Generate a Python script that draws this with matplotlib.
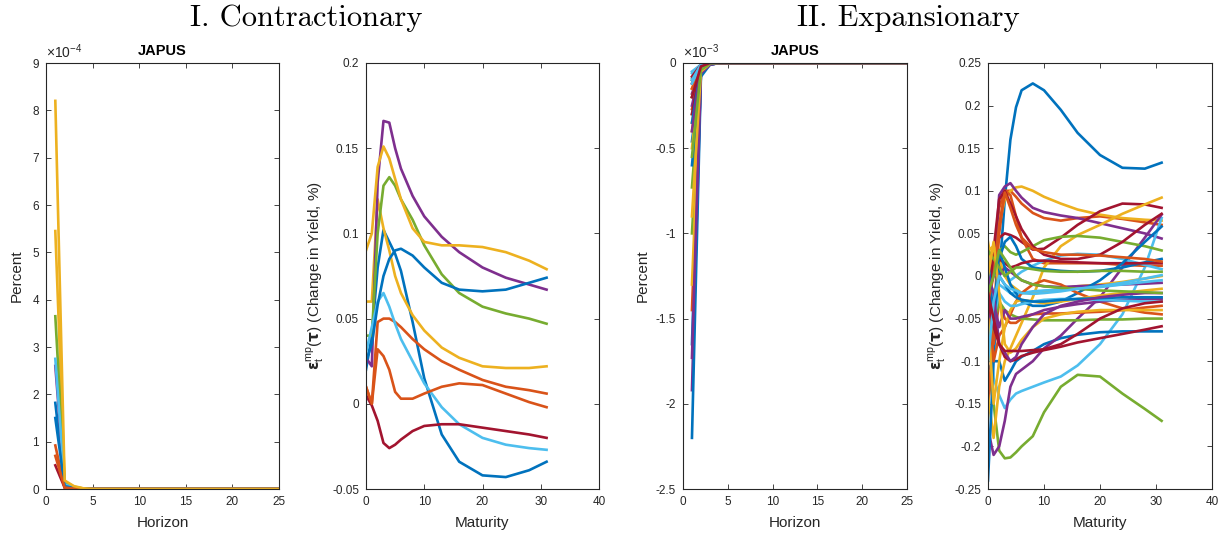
import numpy as np
import matplotlib
matplotlib.use('Agg')
import matplotlib.pyplot as plt
from matplotlib.ticker import FuncFormatter, MultipleLocator

plt.rcParams['font.family'] = ['Liberation Sans', 'DejaVu Sans']
plt.rcParams['mathtext.fontset'] = 'custom'
plt.rcParams['mathtext.rm'] = 'Liberation Sans'
plt.rcParams['mathtext.it'] = 'Liberation Sans:italic'
plt.rcParams['mathtext.bf'] = 'DejaVu Sans:bold'

COLORS = ['#0072BD', '#D95319', '#EDB120', '#7E2F8E', '#77AC30', '#4DBEEE', '#A2142F']

# ---------------- data ----------------
horizon = list(range(1, 26))
maturity = [0, 1, 2, 3, 4, 5, 6, 8, 10, 13, 16, 20, 24, 28, 31]

# Contractionary IRFs (units of 1e-4), horizons 1..5, zero afterwards
con_irf = [
    [1.82, 0.08, 0.02, 0.005, 0.0],
    [0.92, 0.02, 0.005, 0.0, 0.0],
    [5.45, 0.15, 0.05, 0.01, 0.0],
    [2.60, 0.10, 0.03, 0.005, 0.0],
    [3.65, 0.12, 0.04, 0.01, 0.0],
    [2.75, 0.10, 0.03, 0.005, 0.0],
    [0.50, 0.03, 0.01, 0.0, 0.0],
    [1.50, 0.06, 0.02, 0.005, 0.0],
    [0.70, 0.03, 0.01, 0.0, 0.0],
    [8.20, 0.18, 0.06, 0.015, 0.0],
]

# Contractionary yield responses at each maturity
con_yield = [
    [0.020, 0.040, 0.080, 0.102, 0.095, 0.088, 0.078, 0.048, 0.015, -0.018, -0.034, -0.042, -0.043, -0.039, -0.034],
    [0.010, 0.000, 0.048, 0.050, 0.050, 0.048, 0.045, 0.038, 0.032, 0.025, 0.020, 0.014, 0.010, 0.008, 0.006],
    [0.060, 0.060, 0.120, 0.103, 0.090, 0.075, 0.065, 0.052, 0.043, 0.033, 0.027, 0.022, 0.021, 0.021, 0.022],
    [0.027, 0.022, 0.130, 0.166, 0.165, 0.150, 0.138, 0.122, 0.110, 0.098, 0.089, 0.080, 0.074, 0.070, 0.067],
    [0.040, 0.040, 0.100, 0.128, 0.133, 0.128, 0.120, 0.108, 0.093, 0.076, 0.065, 0.057, 0.053, 0.050, 0.047],
    [0.030, 0.045, 0.060, 0.065, 0.057, 0.047, 0.038, 0.025, 0.012, -0.002, -0.012, -0.020, -0.024, -0.026, -0.027],
    [0.005, -0.001, -0.010, -0.023, -0.026, -0.024, -0.021, -0.016, -0.013, -0.012, -0.012, -0.014, -0.016, -0.018, -0.020],
    [0.025, 0.035, 0.058, 0.075, 0.085, 0.090, 0.091, 0.087, 0.080, 0.071, 0.067, 0.066, 0.067, 0.071, 0.074],
    [0.010, 0.000, 0.032, 0.028, 0.020, 0.007, 0.003, 0.003, 0.006, 0.010, 0.012, 0.011, 0.006, 0.001, -0.002],
    [0.090, 0.100, 0.139, 0.151, 0.144, 0.132, 0.120, 0.103, 0.095, 0.093, 0.093, 0.092, 0.089, 0.084, 0.079],
]

# Expansionary IRFs (units of 1e-3), horizons 1..3, zero afterwards
exp_irf = [
    [-0.46, -0.04, -0.005], [-0.27, -0.02, 0.0], [-0.35, -0.03, 0.0], [-0.18, -0.02, 0.0],
    [-1.00, -0.05, -0.005], [-0.09, -0.01, 0.0], [-0.12, -0.01, 0.0],
    [-1.65, -0.06, -0.01], [-1.45, -0.05, -0.005], [-1.30, -0.05, -0.005], [-1.92, -0.06, -0.01],
    [-0.73, -0.04, -0.005], [-0.05, -0.01, 0.0], [-0.20, -0.02, 0.0],
    [-2.20, -0.08, -0.01], [-0.10, -0.01, 0.0], [-0.15, -0.02, 0.0], [-1.73, -0.06, -0.01],
    [-0.30, -0.03, 0.0], [-0.06, -0.01, 0.0], [-0.08, -0.01, 0.0],
    [-0.60, -0.04, -0.005], [-0.40, -0.03, 0.0], [-0.50, -0.03, 0.0], [-0.25, -0.02, 0.0],
    [-0.20, -0.02, 0.0], [-0.10, -0.01, 0.0], [-0.30, -0.02, 0.0],
    [-0.35, -0.03, 0.0], [-0.15, -0.02, 0.0], [-0.90, -0.05, -0.005], [-0.40, -0.03, 0.0],
    [-0.55, -0.04, -0.005], [-0.12, -0.01, 0.0], [-0.20, -0.02, 0.0],
]

# Expansionary yield responses at each maturity
exp_yield = [
    [-0.100, -0.050, 0.000, 0.090, 0.160, 0.198, 0.218, 0.226, 0.218, 0.195, 0.168, 0.142, 0.127, 0.126, 0.133],
    [-0.050, 0.020, 0.080, 0.100, 0.100, 0.093, 0.085, 0.074, 0.068, 0.065, 0.068, 0.070, 0.067, 0.063, 0.060],
    [0.040, 0.000, 0.060, 0.090, 0.100, 0.104, 0.105, 0.100, 0.093, 0.085, 0.078, 0.072, 0.068, 0.066, 0.065],
    [0.000, 0.000, 0.095, 0.105, 0.109, 0.100, 0.092, 0.080, 0.075, 0.071, 0.068, 0.062, 0.056, 0.050, 0.044],
    [-0.110, -0.150, -0.205, -0.214, -0.213, -0.207, -0.200, -0.188, -0.160, -0.130, -0.116, -0.118, -0.138, -0.156, -0.170],
    [-0.050, -0.120, -0.140, -0.155, -0.145, -0.138, -0.135, -0.130, -0.125, -0.118, -0.105, -0.080, -0.045, 0.010, 0.068],
    [0.000, 0.020, 0.045, 0.050, 0.048, 0.045, 0.040, 0.031, 0.032, 0.045, 0.060, 0.076, 0.085, 0.084, 0.080],
    [-0.110, -0.100, -0.100, -0.123, -0.112, -0.100, -0.095, -0.088, -0.080, -0.073, -0.069, -0.066, -0.065, -0.065, -0.065],
    [-0.160, -0.050, 0.050, 0.100, 0.095, 0.070, 0.045, 0.020, 0.015, 0.015, 0.015, 0.015, 0.013, 0.012, 0.012],
    [-0.140, -0.190, -0.130, -0.100, -0.085, -0.070, -0.055, -0.025, 0.010, 0.035, 0.048, 0.060, 0.073, 0.084, 0.092],
    [-0.180, -0.210, -0.200, -0.170, -0.130, -0.115, -0.110, -0.100, -0.085, -0.070, -0.050, -0.025, 0.010, 0.045, 0.072],
    [0.010, 0.020, 0.030, 0.035, 0.028, 0.025, 0.028, 0.035, 0.042, 0.046, 0.047, 0.045, 0.040, 0.035, 0.030],
    [-0.010, 0.000, 0.010, 0.000, -0.005, 0.000, 0.005, 0.012, 0.018, 0.024, 0.026, 0.025, 0.020, 0.013, 0.008],
    [-0.050, 0.030, 0.090, 0.100, 0.085, 0.070, 0.055, 0.035, 0.025, 0.020, 0.020, 0.025, 0.040, 0.060, 0.073],
    [-0.240, -0.100, 0.020, 0.040, 0.046, 0.035, 0.020, 0.010, 0.008, 0.006, 0.005, 0.006, 0.010, 0.016, 0.020],
    [-0.030, -0.080, -0.030, -0.050, -0.055, -0.055, -0.050, -0.045, -0.044, -0.044, -0.043, -0.042, -0.040, -0.037, -0.035],
    [0.030, 0.035, 0.020, 0.000, -0.010, -0.015, -0.020, -0.020, -0.018, -0.015, -0.012, -0.010, -0.007, -0.003, 0.000],
    [-0.010, -0.060, 0.000, 0.010, 0.005, 0.000, -0.005, -0.010, -0.012, -0.013, -0.012, -0.011, -0.010, -0.009, -0.008],
    [-0.080, -0.060, -0.030, -0.040, -0.045, -0.048, -0.050, -0.051, -0.052, -0.052, -0.052, -0.051, -0.051, -0.050, -0.050],
    [0.000, -0.020, -0.010, -0.015, -0.020, -0.020, -0.020, -0.018, -0.017, -0.016, -0.015, -0.013, -0.010, -0.007, -0.005],
    [0.000, 0.000, 0.020, 0.015, 0.010, 0.012, 0.015, 0.018, 0.018, 0.017, 0.016, 0.015, 0.015, 0.015, 0.015],
    [-0.020, -0.050, 0.030, 0.010, -0.010, -0.020, -0.030, -0.035, -0.035, -0.030, -0.020, -0.005, 0.015, 0.040, 0.058],
    [-0.010, -0.100, -0.070, -0.060, -0.045, -0.030, -0.020, -0.010, -0.005, -0.010, -0.020, -0.030, -0.038, -0.043, -0.045],
    [-0.050, -0.150, -0.100, -0.060, -0.040, -0.030, -0.028, -0.030, -0.032, -0.030, -0.027, -0.023, -0.020, -0.017, -0.015],
    [-0.050, -0.030, -0.060, -0.040, -0.050, -0.050, -0.048, -0.045, -0.040, -0.036, -0.033, -0.030, -0.028, -0.027, -0.027],
    [0.030, 0.020, 0.010, 0.000, 0.005, 0.010, 0.010, 0.008, 0.006, 0.005, 0.005, 0.006, 0.006, 0.005, 0.005],
    [-0.030, -0.050, -0.020, -0.030, -0.035, -0.035, -0.033, -0.030, -0.028, -0.027, -0.027, -0.028, -0.029, -0.030, -0.030],
    [-0.030, -0.060, -0.080, -0.095, -0.100, -0.098, -0.094, -0.090, -0.087, -0.083, -0.078, -0.073, -0.068, -0.063, -0.059],
    [0.020, -0.050, 0.000, -0.010, -0.020, -0.025, -0.028, -0.030, -0.030, -0.028, -0.027, -0.026, -0.025, -0.025, -0.025],
    [-0.030, 0.000, 0.060, 0.098, 0.080, 0.060, 0.045, 0.032, 0.028, 0.025, 0.025, 0.024, 0.022, 0.020, 0.017],
    [0.000, 0.040, -0.020, -0.080, -0.090, -0.085, -0.075, -0.060, -0.050, -0.045, -0.042, -0.040, -0.040, -0.040, -0.040],
    [0.000, -0.020, -0.080, -0.090, -0.100, -0.095, -0.080, -0.060, -0.045, -0.035, -0.030, -0.025, -0.022, -0.020, -0.020],
    [-0.020, 0.000, 0.030, 0.020, 0.010, 0.000, -0.005, -0.010, -0.012, -0.014, -0.015, -0.017, -0.018, -0.019, -0.020],
    [-0.100, -0.030, 0.000, -0.010, -0.015, -0.017, -0.020, -0.021, -0.020, -0.018, -0.015, -0.012, -0.008, -0.003, 0.001],
    [-0.020, -0.050, -0.080, -0.088, -0.088, -0.088, -0.088, -0.087, -0.086, -0.080, -0.068, -0.050, -0.038, -0.032, -0.030],
]

# ---------------- figure ----------------
W, H = 1225, 537
fig = plt.figure(figsize=(W / 100, H / 100), dpi=100)

def px_axes(x0, x1, y0, y1):
    return fig.add_axes([x0 / W, 1 - y1 / H, (x1 - x0) / W, (y1 - y0) / H])

AXC = '#262626'
def style(ax):
    for s in ax.spines.values():
        s.set_color(AXC)
        s.set_linewidth(0.8)
    ax.tick_params(direction='in', length=3.5, width=0.6, top=True, right=True,
                   labelsize=8.5, colors=AXC, pad=5)

def gfmt(scale=1.0):
    return FuncFormatter(lambda v, p: '%g' % round(v / scale, 6))

def pad_zero(vals, n):
    return list(vals) + [0.0] * (n - len(vals))

LW = 1.9
LABEL_KW = dict(fontsize=11, color=AXC)

# Panel 1
ax1 = px_axes(46, 279, 63, 489)
for i, v in enumerate(con_irf):
    ax1.plot(horizon, np.array(pad_zero(v, len(horizon))) * 1e-4, color=COLORS[i % 7], lw=LW)
ax1.set_xlim(0, 25); ax1.set_ylim(0, 9e-4)
ax1.xaxis.set_major_locator(MultipleLocator(5))
ax1.yaxis.set_major_locator(MultipleLocator(1e-4))
ax1.yaxis.set_major_formatter(gfmt(1e-4))
ax1.text(0.0, 1.004, r'$\times$10$^{\mathrm{-4}}$', transform=ax1.transAxes, ha='left', va='bottom', fontsize=10, color=AXC)
ax1.set_title('JAPUS', fontsize=10.5, fontweight='bold', pad=6)
ax1.set_xlabel('Horizon', labelpad=6, **LABEL_KW)
ax1.set_ylabel('Percent', labelpad=6, **LABEL_KW)
style(ax1)

# Panel 2
ax2 = px_axes(366, 599, 63, 489)
for i, v in enumerate(con_yield):
    ax2.plot(maturity, v, color=COLORS[i % 7], lw=LW)
ax2.set_xlim(0, 40); ax2.set_ylim(-0.05, 0.2)
ax2.xaxis.set_major_locator(MultipleLocator(10))
ax2.yaxis.set_major_locator(MultipleLocator(0.05))
ax2.yaxis.set_major_formatter(gfmt())
ax2.set_xlabel('Maturity', labelpad=6, **LABEL_KW)
YL = r'$\mathbf{\epsilon}_{\mathrm{t}}^{\mathrm{mp}}(\mathbf{\tau})$ (Change in Yield, %)'
ax2.set_ylabel(YL, labelpad=4, **LABEL_KW)
style(ax2)

# Panel 3
ax3 = px_axes(683, 907, 63, 489)
for i, v in enumerate(exp_irf):
    ax3.plot(horizon, np.array(pad_zero(v, len(horizon))) * 1e-3, color=COLORS[i % 7], lw=LW)
ax3.set_xlim(0, 25); ax3.set_ylim(-2.5e-3, 0)
ax3.xaxis.set_major_locator(MultipleLocator(5))
ax3.yaxis.set_major_locator(MultipleLocator(0.5e-3))
ax3.yaxis.set_major_formatter(gfmt(1e-3))
ax3.text(0.0, 1.004, r'$\times$10$^{\mathrm{-3}}$', transform=ax3.transAxes, ha='left', va='bottom', fontsize=10, color=AXC)
ax3.set_title('JAPUS', fontsize=10.5, fontweight='bold', pad=6)
ax3.set_xlabel('Horizon', labelpad=6, **LABEL_KW)
ax3.set_ylabel('Percent', labelpad=4, **LABEL_KW)
style(ax3)

# Panel 4
ax4 = px_axes(988, 1212, 63, 489)
for i, v in enumerate(exp_yield):
    ax4.plot(maturity, v, color=COLORS[i % 7], lw=LW)
ax4.set_xlim(0, 40); ax4.set_ylim(-0.25, 0.25)
ax4.xaxis.set_major_locator(MultipleLocator(10))
ax4.yaxis.set_major_locator(MultipleLocator(0.05))
ax4.yaxis.set_major_formatter(gfmt())
ax4.set_xlabel('Maturity', labelpad=6, **LABEL_KW)
ax4.set_ylabel(YL, labelpad=4, **LABEL_KW)
style(ax4)

fig.text(306 / W, 1 - 18 / H, 'I. Contractionary', ha='center', va='center', family='cmr10', fontsize=22)
fig.text(908 / W, 1 - 18 / H, 'II. Expansionary', ha='center', va='center', family='cmr10', fontsize=22)

fig.savefig('out.png', dpi=100)
